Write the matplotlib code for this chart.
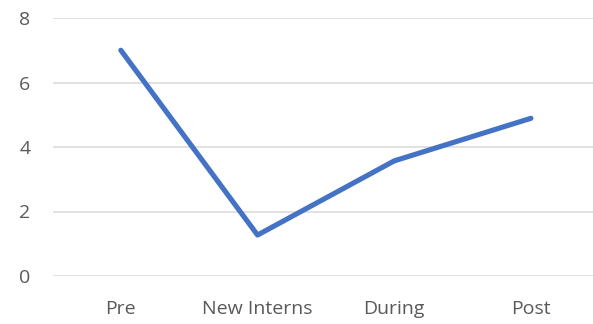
import matplotlib
matplotlib.use('Agg')
import matplotlib.pyplot as plt

# Scores par phase
phases = ["Pre", "New Interns", "During", "Post"]
scores = [7.0, 1.27, 3.57, 4.89]
y_ticks = [0, 2, 4, 6, 8]

plt.rcParams['font.family'] = ['Open Sans', 'DejaVu Sans']

W, H = 593, 324
fig = plt.figure(figsize=(W / 100, H / 100), dpi=100)
ax = fig.add_axes([52.5 / W, 48 / H, 546.8 / W, 258 / H])

x = list(range(len(phases)))
ax.plot(x, scores, color='#4472C4', linewidth=3.7, solid_capstyle='round',
        solid_joinstyle='round', zorder=3)

ax.set_xlim(-0.5, len(phases) - 0.5)
ax.set_ylim(0, 8)
ax.set_yticks(y_ticks)
ax.set_xticks(x)
ax.set_xticklabels(phases)

ax.grid(axis='y', color='#D9D9D9', linewidth=1.1)
ax.set_axisbelow(True)
for s in ax.spines.values():
    s.set_visible(False)
ax.tick_params(axis='both', length=0, labelsize=14, colors='#595959')
ax.tick_params(axis='y', pad=16)
ax.tick_params(axis='x', pad=17)

fig.savefig('out.png', dpi=100)
